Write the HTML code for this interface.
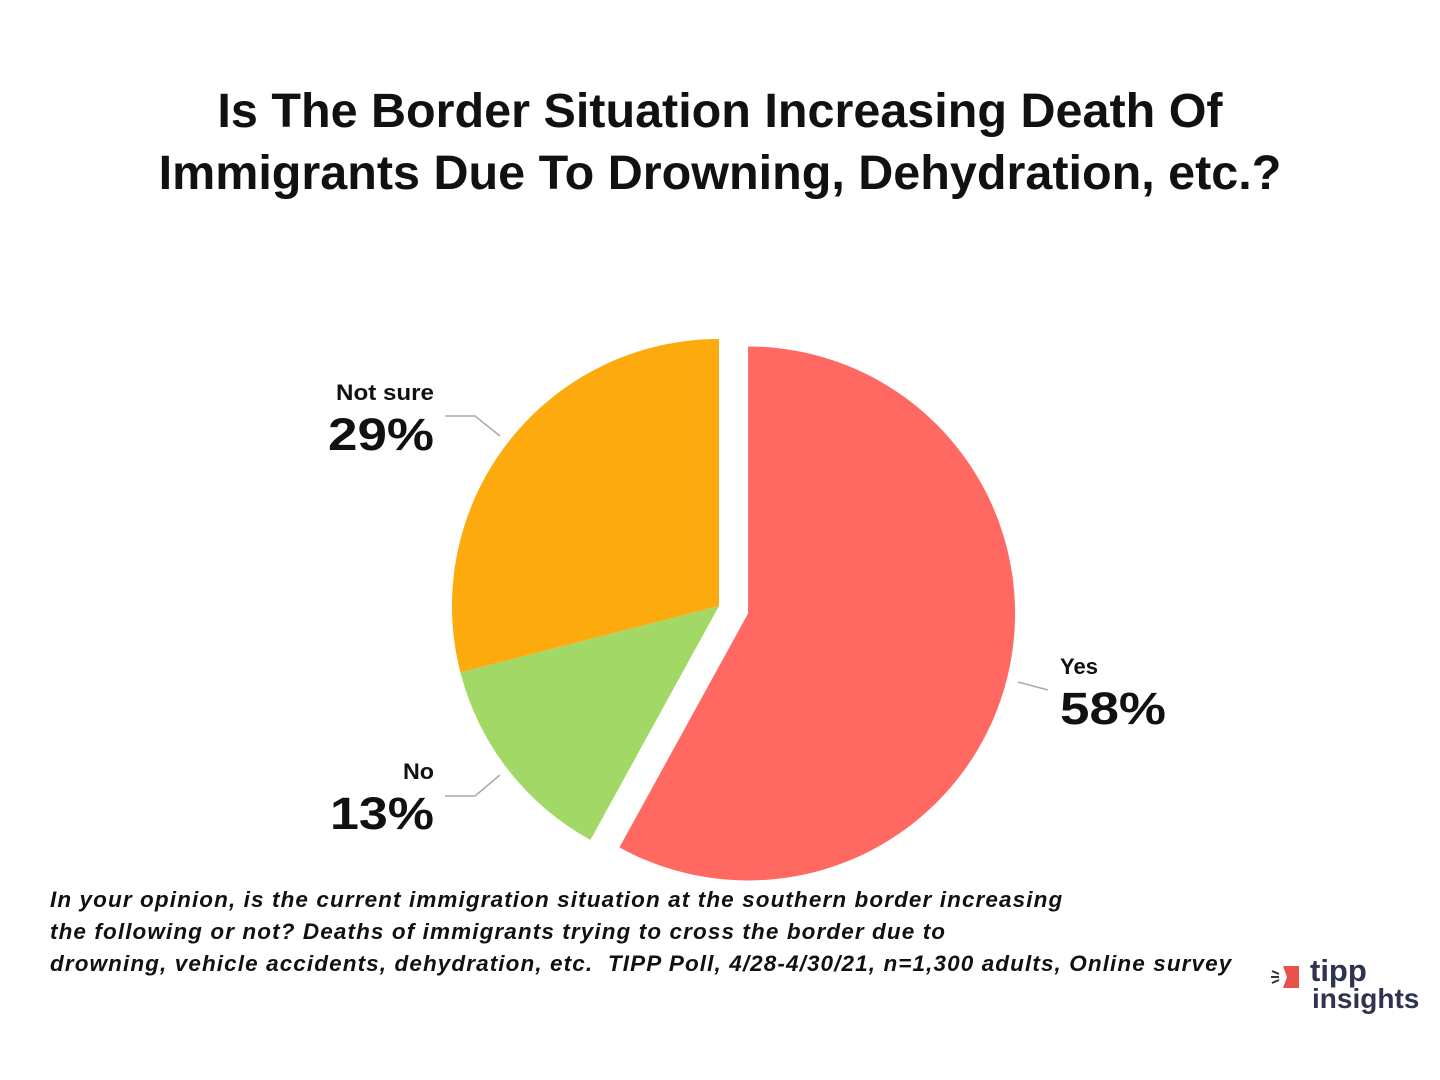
<!DOCTYPE html>
<html><head><meta charset="utf-8"><style>
body{margin:0;width:1440px;height:1080px;background:#fff;font-family:"Liberation Sans",sans-serif;overflow:hidden;position:relative}
.t{position:absolute;left:0;width:1440px;text-align:center;font-weight:bold;font-size:48.5px;color:#111}
.note{position:absolute;left:50px;top:884px;font-style:italic;font-weight:bold;font-size:22.5px;letter-spacing:1.1px;line-height:32px;color:#111;white-space:nowrap}
</style></head><body>
<div class="t" style="top:80px;line-height:62px">Is The Border Situation Increasing Death Of<br>Immigrants Due To Drowning, Dehydration, etc.?</div>
<svg id="pie" width="1440" height="1080" style="position:absolute;left:0;top:0"></svg>
<div class="note">In your opinion, is the current immigration situation at the southern border increasing<br>the following or not? Deaths of immigrants trying to cross the border due to<br>drowning, vehicle accidents, dehydration, etc.&nbsp; TIPP Poll, 4/28-4/30/21, n=1,300 adults, Online survey</div>
<div style="position:absolute;left:1270px;top:962px;width:160px;height:60px">
<svg width="40" height="30" style="position:absolute;left:0;top:2px"><path d="M13,2 h16 v22 h-16 l4,-11z" fill="#e8524a"/><path d="M2,7 l7,3 M1,13 h8 M2,19 l7,-3" stroke="#333" stroke-width="2"/></svg>
<div style="position:absolute;left:40px;top:-6px;font-weight:bold;font-size:31px;color:#2e3350;line-height:30px">tipp</div>
<div style="position:absolute;left:42px;top:22px;font-weight:bold;font-size:28px;color:#2e3350;line-height:30px">insights</div>
</div>
<script>
const categories=["Yes","No","Not sure"];
const values=[58,13,29];
const colors=["#ff6961","#a2d865","#fdaa0e"];
const svg=document.getElementById('pie');
const NS="http://www.w3.org/2000/svg";
const cx=719,cy=606,r=267,explode=30;
let start=0;
const total=values.reduce((a,b)=>a+b,0);
values.forEach((v,i)=>{
  const a0=start/total*2*Math.PI, a1=(start+v)/total*2*Math.PI;
  const mid=(a0+a1)/2;
  const ox=i===0?explode*Math.sin(mid):0, oy=i===0?-explode*Math.cos(mid):0;
  const x0=cx+ox+r*Math.sin(a0), y0=cy+oy-r*Math.cos(a0);
  const x1=cx+ox+r*Math.sin(a1), y1=cy+oy-r*Math.cos(a1);
  const p=document.createElementNS(NS,'path');
  p.setAttribute('d',`M${cx+ox},${cy+oy} L${x0},${y0} A${r},${r} 0 ${a1-a0>Math.PI?1:0} 1 ${x1},${y1} Z`);
  p.setAttribute('fill',colors[i]);
  
  
  svg.appendChild(p);
  start+=v;
});
function txt(x,y,s,size,anchor,name,len){
  const t=document.createElementNS(NS,'text');
  t.setAttribute('x',x);t.setAttribute('y',y);t.setAttribute('font-size',size);
  t.setAttribute('font-weight','bold');t.setAttribute('text-anchor',anchor);t.setAttribute('fill','#111');
  t.setAttribute('font-family','Liberation Sans, sans-serif');
  if(len){t.setAttribute('textLength',len);t.setAttribute('lengthAdjust','spacingAndGlyphs');}
  t.textContent=s;
  
  
  svg.appendChild(t);
}
function line(pts,name){
  const l=document.createElementNS(NS,'polyline');
  l.setAttribute('points',pts);l.setAttribute('fill','none');l.setAttribute('stroke','#aaa');l.setAttribute('stroke-width','1.5');
  
  
  svg.appendChild(l);
}
line("445,416 475,416 500,436","leader-not-sure");
line("445,796 475,796 500,775","leader-no");
line("1018,682 1048,690","leader-yes");
txt(434,400,categories[2],22,'end','label-not-sure',98);
txt(434,450,values[2]+'%',45,'end','value-not-sure',106);
txt(434,779,categories[1],22,'end','label-no',31);
txt(434,829,values[1]+'%',45,'end','value-no',104);
txt(1060,674,categories[0],22,'start','label-yes',38);
txt(1060,724,values[0]+'%',45,'start','value-yes',106);
</script>
</body></html>
